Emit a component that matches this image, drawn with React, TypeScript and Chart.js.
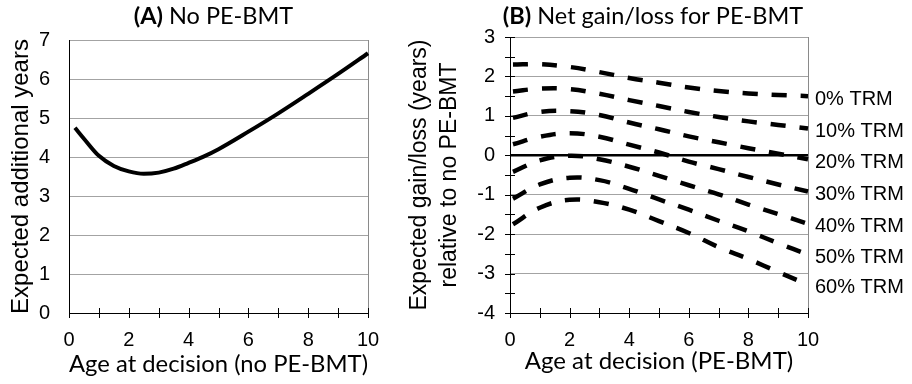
import React, { useEffect, useRef } from 'react';
import { Chart, registerables } from 'chart.js';

Chart.register(...registerables);

// ---------- Panel A data ----------
const agesA = [0.2, 0.5, 1, 1.5, 2, 2.5, 3, 3.5, 4, 4.5, 5, 6, 7, 8, 9, 10];
const yearsA = [4.75, 4.47, 4.03, 3.77, 3.63, 3.57, 3.6, 3.7, 3.85, 4.01, 4.2, 4.65, 5.12, 5.62, 6.13, 6.66];

// ---------- Panel B data ----------
const agesB = [0.1, 1, 2, 3, 4, 5, 6, 7, 8, 9, 10];
const trmNames = ['0% TRM', '10% TRM', '20% TRM', '30% TRM', '40% TRM', '50% TRM', '60% TRM'];
const trm0 = [2.3, 2.31, 2.24, 2.11, 1.96, 1.84, 1.72, 1.63, 1.57, 1.53, 1.5];
const trm10 = [1.62, 1.69, 1.68, 1.56, 1.4, 1.25, 1.1, 0.97, 0.86, 0.77, 0.68];
const trm20 = [0.95, 1.1, 1.12, 1.02, 0.83, 0.66, 0.48, 0.33, 0.18, 0.04, -0.1];
const trm30 = [0.28, 0.47, 0.56, 0.47, 0.27, 0.07, -0.16, -0.35, -0.55, -0.74, -0.92];
const trm40 = [-0.42, -0.13, -0.01, -0.1, -0.29, -0.52, -0.76, -0.99, -1.25, -1.49, -1.74];
const trm50 = [-1.1, -0.74, -0.57, -0.63, -0.85, -1.12, -1.38, -1.66, -1.93, -2.23, -2.52];
const trm60 = [-1.75, -1.33, -1.13, -1.19, -1.38, -1.67, -1.97, -2.33, -2.63, -2.96, -3.28];
const trmSeries = [trm0, trm10, trm20, trm30, trm40, trm50, trm60];

const titleA = ['(A)', ' No PE-BMT'];
const titleB = ['(B)', ' Net gain/loss for PE-BMT'];
const yTitleA = 'Expected additional years';
const yTitleB = ['Expected gain/loss (years)', 'relative to no PE-BMT'];
const xTitleA = 'Age at decision (no PE-BMT)';
const xTitleB = 'Age at decision (PE-BMT)';

const SANS = '"Liberation Sans", Arial, sans-serif';
const CAL = 'Lato, "Open Sans", sans-serif';
const GRID = '#a3a3a3';

const panelTitle = {
  id: 'panelTitle',
  afterDraw(chart: any, _a: any, opts: any) {
    const { ctx, chartArea } = chart;
    ctx.save();
    const bf = `bold ${opts.size}px ${CAL}`;
    const nf = `${opts.size}px ${CAL}`;
    ctx.font = bf;
    const w1 = ctx.measureText(opts.text[0]).width;
    ctx.font = nf;
    const w2 = ctx.measureText(opts.text[1]).width;
    const cx = (chartArea.left + chartArea.right) / 2 + opts.dx;
    const x = cx - (w1 + w2) / 2;
    ctx.textBaseline = 'middle';
    ctx.fillStyle = '#000';
    ctx.font = bf;
    ctx.fillText(opts.text[0], x, opts.y);
    ctx.font = nf;
    ctx.fillText(opts.text[1], x + w1, opts.y);
    ctx.restore();
  },
};

const plotFrame = {
  id: 'plotFrame',
  beforeDatasetsDraw(chart: any) {
    const { ctx, chartArea } = chart;
    ctx.save();
    ctx.strokeStyle = '#8a8a8a';
    ctx.lineWidth = 1;
    const x = Math.round(chartArea.right) + 0.5;
    ctx.beginPath();
    ctx.moveTo(x, chartArea.top);
    ctx.lineTo(x, chartArea.bottom);
    ctx.stroke();
    ctx.restore();
  },
};

const crossTicks = {
  id: 'crossTicks',
  afterDraw(chart: any, _a: any, opts: any) {
    const { ctx, chartArea } = chart;
    ctx.save();
    ctx.strokeStyle = '#000';
    ctx.lineWidth = 1;
    for (const id of opts.axes) {
      const s = chart.scales[id];
      s.ticks.forEach((t: any) => {
        const p = Math.round(s.getPixelForValue(t.value)) + 0.5;
        ctx.beginPath();
        if (s.isHorizontal()) {
          ctx.moveTo(p, chartArea.bottom - opts.len);
          ctx.lineTo(p, chartArea.bottom + opts.len);
        } else {
          ctx.moveTo(chartArea.left - opts.len, p);
          ctx.lineTo(chartArea.left + opts.len, p);
        }
        ctx.stroke();
      });
    }
    ctx.restore();
  },
};

const endLabels = {
  id: 'endLabels',
  afterDatasetsDraw(chart: any, _a: any, opts: any) {
    const { ctx, chartArea } = chart;
    ctx.save();
    ctx.font = `20px ${SANS}`;
    ctx.fillStyle = '#000';
    ctx.textBaseline = 'middle';
    ctx.textAlign = 'left';
    chart.data.datasets.forEach((ds: any, i: number) => {
      const meta = chart.getDatasetMeta(i);
      const last = meta.data[meta.data.length - 1];
      ctx.fillText(ds.label, chartArea.right + opts.dx, last.y + opts.dy);
    });
    ctx.restore();
  },
};

const xAxis = (title: string, titlePad: number) => ({
  type: 'linear',
  min: 0,
  max: 10,
  grid: { display: false, drawTicks: false },
  border: { display: true, color: '#000', width: 1 },
  ticks: {
    stepSize: 1,
    autoSkip: false,
    maxRotation: 0,
    padding: 15,
    color: '#000',
    font: { family: SANS, size: 20 },
    callback: (v: any) => (v % 2 === 0 ? String(v) : ''),
  },
  title: {
    display: true,
    text: title,
    color: '#000',
    font: { family: CAL, size: 24 },
    padding: { top: 0, bottom: titlePad },
  },
  afterFit: (s: any) => {
    s.height = 71;
  },
});

function configA(): any {
  return {
    type: 'line',
    data: {
      datasets: [
        {
          label: 'No PE-BMT',
          data: agesA.map((x, i) => ({ x, y: yearsA[i] })),
          borderColor: '#000',
          borderWidth: 4,
          pointRadius: 0,
          cubicInterpolationMode: 'monotone',
          fill: false,
          clip: 6,
        },
      ],
    },
    options: {
      responsive: false,
      animation: false,
      layout: { padding: { top: 40, right: 32, left: 0, bottom: 0 } },
      plugins: {
        legend: { display: false },
        tooltip: { enabled: false },
        panelTitle: { text: titleA, size: 23.5, dx: -5, y: 16 },
        crossTicks: { axes: ['x'], len: 5 },
      },
      scales: {
        x: xAxis(xTitleA, 5),
        y: {
          type: 'linear',
          min: 0,
          max: 7,
          grid: { color: GRID, lineWidth: 1, drawTicks: false },
          border: { display: true, color: '#000', width: 1 },
          ticks: {
            stepSize: 1,
            padding: 19,
            color: '#000',
            font: { family: SANS, size: 20 },
          },
          title: {
            display: true,
            text: yTitleA,
            color: '#000',
            font: { family: SANS, size: 24, lineHeight: 1.2 },
            padding: { top: 7, bottom: 0 },
          },
          afterFit: (s: any) => {
            s.width = 69;
          },
        },
      },
    },
    plugins: [panelTitle, plotFrame, crossTicks],
  };
}

function configB(): any {
  return {
    type: 'line',
    data: {
      datasets: trmSeries.map((ser, k) => ({
        label: trmNames[k],
        data: agesB.map((x, i) => ({ x, y: ser[i] })),
        borderColor: '#000',
        borderWidth: 4.5,
        borderDash: [15, 14],
        pointRadius: 0,
        tension: 0.4,
        fill: false,
        clip: 6,
      })),
    },
    options: {
      responsive: false,
      animation: false,
      layout: { padding: { top: 37, right: 104, left: 0, bottom: 0 } },
      plugins: {
        legend: { display: false },
        tooltip: { enabled: false },
        panelTitle: { text: titleB, size: 23.5, dx: -6, y: 16 },
        crossTicks: { axes: ['x', 'y'], len: 5 },
        endLabels: { dx: 7, dy: 3 },
      },
      scales: {
        x: xAxis(xTitleB, 8),
        y: {
          type: 'linear',
          min: -4,
          max: 3,
          grid: {
            drawTicks: false,
            color: (c: any) =>
              c.tick && c.tick.value === 0
                ? '#000'
                : c.tick && Number.isInteger(c.tick.value)
                ? GRID
                : 'rgba(0,0,0,0)',
            lineWidth: (c: any) => (c.tick && c.tick.value === 0 ? 2.5 : 1),
          },
          border: { display: true, color: '#000', width: 1 },
          ticks: {
            stepSize: 0.5,
            autoSkip: false,
            padding: 15,
            color: '#000',
            font: { family: SANS, size: 20 },
            callback: (v: any) => (Number.isInteger(v) ? String(v) : ''),
          },
          title: {
            display: true,
            text: yTitleB,
            color: '#000',
            font: { family: SANS, size: 23, lineHeight: 1.3 },
            padding: { top: 5, bottom: 0 },
          },
          afterFit: (s: any) => {
            s.width = 110;
          },
        },
      },
    },
    plugins: [panelTitle, plotFrame, crossTicks, endLabels],
  };
}

function ChartBox({ left, width, makeConfig }: { left: number; width: number; makeConfig: () => any }) {
  const ref = useRef<HTMLCanvasElement | null>(null);
  useEffect(() => {
    if (!ref.current) return;
    const chart = new Chart(ref.current, makeConfig());
    return () => chart.destroy();
  }, []);
  return (
    <div style={{ position: 'absolute', left, top: 0, width, height: 384 }}>
      <canvas ref={ref} width={width} height={384} style={{ display: 'block' }} />
    </div>
  );
}

export default function App() {
  return (
    <div style={{ position: 'fixed', left: 0, top: 0, width: 912, height: 384, background: '#fff' }}>
      <ChartBox left={0} width={400} makeConfig={configA} />
      <ChartBox left={400} width={512} makeConfig={configB} />
    </div>
  );
}
